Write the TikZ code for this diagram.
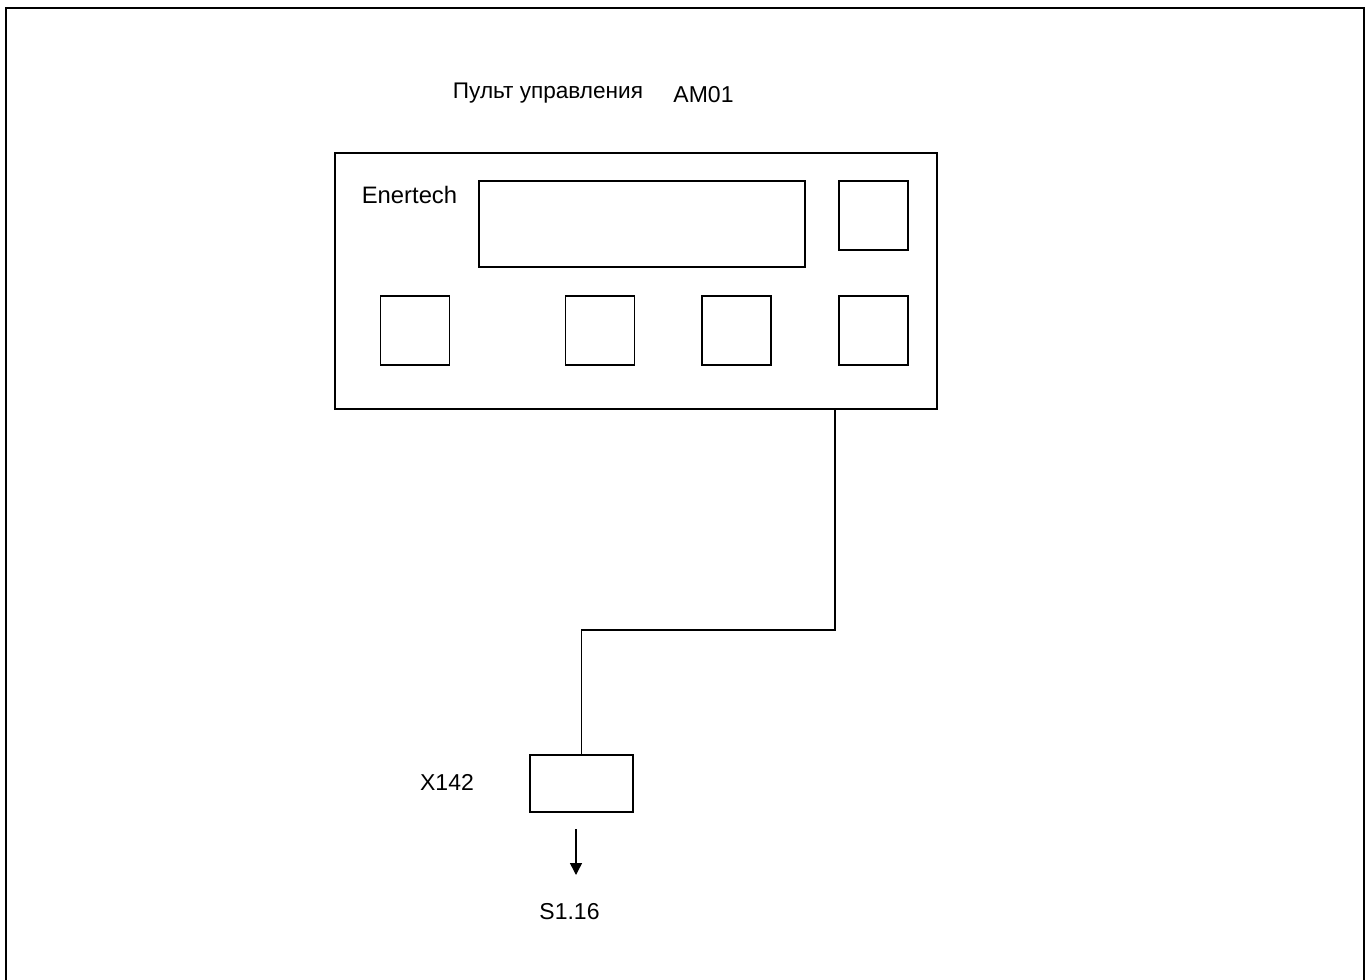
\documentclass[tikz,border=0pt]{standalone}
\usepackage{fontspec}
\setmainfont{Liberation Sans}
\usetikzlibrary{arrows.meta}

\tikzset{
  panelbox/.style={rectangle, draw, line width=0.75pt, inner sep=0pt},
  keybox/.style={panelbox, minimum width=34.5pt, minimum height=34.5pt},
  lbl/.style={font=\fontsize{11.5pt}{13pt}\selectfont, inner sep=2pt}
}

\begin{document}
\begin{tikzpicture}[x=0.5pt, y=-0.5pt]
				\useasboundingbox[fill=white] (0,0) rectangle (1367,980);

				% Outer frame (open at the bottom)
				\draw[line width=1.25pt] (6,984) -- (6,8) -- (1364,8) -- (1364,984);

				% Title
				\node[lbl, font=\fontsize{11.3pt}{13pt}\selectfont] (title) at (548,93) {Пульт управления};
				\node[lbl] (amname) at (703.5,95) {AM01};

				% Control panel with display and keys
				\node[panelbox, minimum width=301pt, minimum height=128pt] (panel) at (636,281) {};
				\node[panelbox, minimum width=163pt, minimum height=43pt] (display) at (642,224) {};
				\node[lbl, font=\fontsize{11.9pt}{13pt}\selectfont] (brand) at (409.5,195) {Enertech};
				\node[keybox] (keytr) at (873.5,215.5) {};
				\node[keybox] (keya) at (415,330.5) {};
				\node[keybox] (keyb) at (600,330.5) {};
				\node[keybox] (keyc) at (736.5,330.5) {};
				\node[keybox] (keyd) at (873.5,330.5) {};

				% Connector X142
				\node[panelbox, minimum width=51.5pt, minimum height=28.5pt] (x142) at (581.5,783.5) {};
				\node[lbl] (x142lbl) at (447,782) {X142};

				% Cable from panel to connector
				\draw[line width=0.75pt] ([xshift=-51.5pt]panel.south east) -- ++(0,-110pt) -| (x142.north);

				% Outgoing arrow
				\node[lbl] (s1) at (569.5,912) {S1.16};
				\coordinate (s1top) at (576,829);
				\draw[line width=0.75pt, -{Triangle[length=6pt, width=6pt]}] (s1top) -- (576,875);
\end{tikzpicture}
\end{document}
